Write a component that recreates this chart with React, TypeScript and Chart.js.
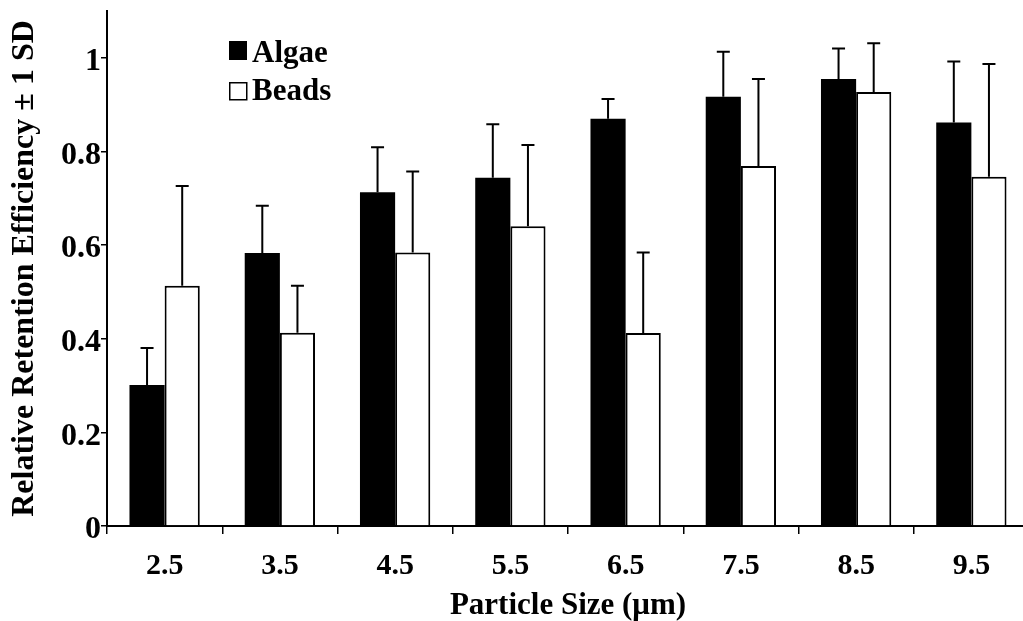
import React, { useEffect, useRef } from "react";
import { Chart, registerables } from "chart.js";

Chart.register(...registerables);

const categories = ["2.5", "3.5", "4.5", "5.5", "6.5", "7.5", "8.5", "9.5"];
const algaeMean = [0.301, 0.583, 0.713, 0.744, 0.87, 0.917, 0.955, 0.862];
const algaeSD = [0.079, 0.101, 0.096, 0.114, 0.042, 0.096, 0.065, 0.13];
const beadsMean = [0.513, 0.413, 0.584, 0.64, 0.412, 0.769, 0.927, 0.746];
const beadsSD = [0.213, 0.1, 0.173, 0.174, 0.172, 0.186, 0.104, 0.241];
const yTickValues = [0, 0.2, 0.4, 0.6, 0.8, 1];
const seriesNames = ["Algae", "Beads"];

const FONT = "'Liberation Serif', 'Times New Roman', serif";

const errorBarPlugin = {
  id: "errorBars",
  afterDatasetsDraw(chart: any) {
    const ctx = chart.ctx;
    const yScale = chart.scales.y;
    const sds = [algaeSD, beadsSD];
    const means = [algaeMean, beadsMean];
    ctx.save();
    ctx.strokeStyle = "#000";
    ctx.lineWidth = 2;
    chart.data.datasets.forEach((_: any, di: number) => {
      const meta = chart.getDatasetMeta(di);
      meta.data.forEach((el: any, i: number) => {
        const x = el.x;
        const yTop = el.y;
        const yErr = yScale.getPixelForValue(means[di][i] + sds[di][i]);
        ctx.beginPath();
        ctx.moveTo(x, yTop);
        ctx.lineTo(x, yErr);
        ctx.moveTo(x - 6.5, yErr);
        ctx.lineTo(x + 6.5, yErr);
        ctx.stroke();
      });
    });
    ctx.restore();
  },
};

const legendPlugin = {
  id: "customLegend",
  afterDraw(chart: any) {
    const ctx = chart.ctx;
    ctx.save();
    ctx.font = `bold 31px ${FONT}`;
    ctx.fillStyle = "#000";
    ctx.textBaseline = "alphabetic";
    // Algae
    ctx.fillRect(229, 41, 18, 19);
    ctx.fillText(seriesNames[0], 252, 62);
    // Beads
    ctx.strokeStyle = "#000";
    ctx.lineWidth = 1.5;
    ctx.strokeRect(229.75, 82.75, 17, 17);
    ctx.fillText(seriesNames[1], 252, 100);
    ctx.restore();
  },
};

export default function App() {
  const canvasRef = useRef<HTMLCanvasElement | null>(null);

  useEffect(() => {
    if (!canvasRef.current) return;
    const chart = new Chart(canvasRef.current, {
      type: "bar",
      data: {
        labels: categories,
        datasets: [
          {
            label: seriesNames[0],
            data: algaeMean,
            backgroundColor: "#000",
            borderColor: "#000",
            borderWidth: 0,
            categoryPercentage: 0.61,
            barPercentage: 1,
          },
          {
            label: seriesNames[1],
            data: beadsMean,
            backgroundColor: "#fff",
            borderColor: "#000",
            borderWidth: 2,
            categoryPercentage: 0.61,
            barPercentage: 1,
          },
        ],
      },
      options: {
        responsive: false,
        animation: false,
        devicePixelRatio: 1,
        layout: { padding: { top: 11, right: 11, left: 0, bottom: 0 } },
        plugins: {
          legend: { display: false },
          tooltip: { enabled: false },
        },
        scales: {
          x: {
            offset: true,
            grid: {
              display: true,
              offset: true,
              drawOnChartArea: false,
              drawTicks: true,
              tickLength: 8,
              color: "#000",
              lineWidth: 1.5,
            },
            border: { display: true, color: "#000", width: 2 },
            ticks: {
              color: "#000",
              font: { family: FONT, size: 30, weight: "bold" },
              padding: 14,
              maxRotation: 0,
              autoSkip: false,
            },
            title: {
              display: true,
              text: "Particle Size (μm)",
              color: "#000",
              font: { family: FONT, size: 31, weight: "bold", lineHeight: 1 },
              padding: { top: 0, bottom: 0 },
            },
            afterFit(scale: any) {
              scale.height = 95;
              scale.paddingLeft = 0;
              scale.paddingRight = 0;
            },
          },
          y: {
            min: 0,
            max: 1.1,
            grid: {
              display: true,
              drawOnChartArea: false,
              drawTicks: true,
              tickLength: 6,
              color: "#000",
              lineWidth: 1.5,
            },
            border: { display: true, color: "#000", width: 2 },
            ticks: {
              stepSize: 0.2,
              color: "#000",
              padding: 0,
              labelOffset: 4,
              font: { family: FONT, size: 32, weight: "bold" },
              callback: (v: any) => String(Number(Number(v).toFixed(1))),
            },
            afterBuildTicks(scale: any) {
              scale.ticks = yTickValues.map((v) => ({ value: v }));
            },
            title: {
              display: true,
              text: "Relative Retention Efficiency ± 1 SD",
              color: "#000",
              font: { family: FONT, size: 32, weight: "bold", lineHeight: 1 },
              padding: { top: 9, bottom: 0 },
            },
            afterFit(scale: any) {
              scale.width = 107;
              scale.paddingTop = 0;
              scale.paddingBottom = 0;
            },
          },
        },
      },
      plugins: [errorBarPlugin, legendPlugin],
    });
    return () => chart.destroy();
  }, []);

  return (
    <div
      style={{
        position: "fixed",
        left: 0,
        top: 0,
        width: 1023,
        height: 621,
        overflow: "hidden",
        background: "#fff",
      }}
    >
      <canvas
        ref={canvasRef}
        width={1040}
        height={621}
        style={{ display: "block", width: 1040, height: 621 }}
      />
    </div>
  );
}
